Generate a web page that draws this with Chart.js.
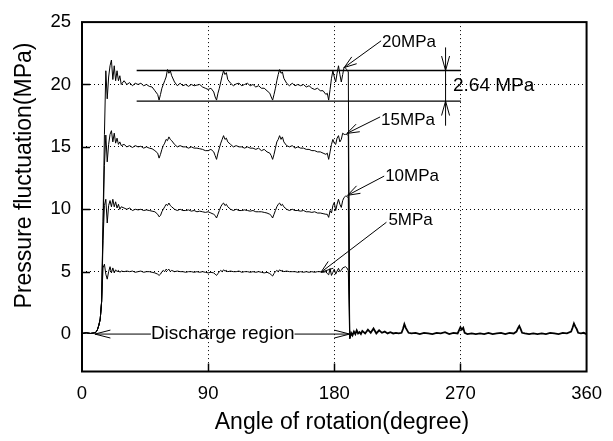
<!DOCTYPE html>
<html>
<head>
<meta charset="utf-8">
<script src="https://cdn.jsdelivr.net/npm/chart.js@4/dist/chart.umd.min.js"></script>
<style>
  html, body { margin: 0; padding: 0; background: #fff; }
  #wrap { width: 613px; height: 441px; }
</style>
</head>
<body>
<div id="wrap"><canvas id="chart" width="613" height="441"></canvas></div>
<script>
// rotation angle (degrees) shared by the four discharge traces
const angles = [0, 3, 6, 9, 10, 11, 12, 13, 14, 15, 16, 17, 18, 19, 20, 21, 22, 23, 24, 25, 26, 27, 28,
  30, 32, 34, 36, 38, 40, 42, 44, 46, 48, 50, 52, 54,
  55, 56, 57, 58, 59, 60, 61, 62, 63, 64,
  66, 68, 70, 72, 74, 76, 78, 80, 82, 84, 86, 88, 90, 92, 94,
  95, 96, 97, 98, 99, 100, 101, 102, 103, 104,
  106, 108, 110, 112, 114, 116, 118, 120, 122, 124, 126, 128, 130, 132, 134,
  135, 136, 137, 138, 139, 140, 141, 142, 143, 144,
  146, 148, 150, 152, 154, 156, 158, 160, 162, 164, 166, 168, 170, 172, 174,
  175, 176, 177, 178, 179, 180, 181, 182, 183, 184, 185, 186, 187, 188, 189, 190, 191];

const p20 = [0.05, 0.1, 0.05, 0.1, 0.15, 0.35, 0.7, 1.2, 2.6, 9.0, 16.0, 21.1, 18.85, 20.6, 21.5, 21.96, 20.4, 21.5, 20.3, 21.1, 20.3, 20.7, 20.0,
  20.3, 20.0, 20.15, 19.9, 20.1, 20.0, 20.1, 19.9, 20.0, 19.85, 19.8, 19.5, 19.2,
  18.75, 19.2, 19.7, 20.0, 20.3, 20.6, 21.2, 20.9, 21.1, 20.7,
  20.2, 19.9, 20.1, 19.9, 20.0, 19.85, 20.0, 19.9, 19.95, 20.0, 19.8, 19.7, 19.6, 19.7, 19.4,
  19.0, 18.75, 19.3, 19.7, 20.2, 20.7, 21.1, 20.8, 20.95, 20.4,
  20.1, 19.9, 20.05, 20.1, 19.9, 20.0, 20.1, 19.9, 20.0, 19.8, 19.9, 19.7, 19.7, 19.5, 19.3,
  19.0, 18.75, 19.2, 19.7, 20.3, 20.8, 21.2, 20.9, 21.0, 20.5,
  20.1, 19.9, 20.1, 19.9, 20.0, 19.9, 20.0, 19.8, 19.9, 19.7, 19.6, 19.7, 19.5, 19.5, 19.2,
  19.3, 18.75, 19.6, 20.5, 21.1, 20.6, 20.2, 20.9, 21.5, 20.8, 20.2, 20.8, 21.4, 21.3, 21.2, 21.0, -0.35];

const p15 = [0.05, 0.1, 0.05, 0.1, 0.15, 0.35, 0.7, 1.2, 2.6, 8.5, 13.5, 15.95, 13.8, 15.2, 16.0, 16.3, 15.4, 16.1, 15.3, 15.7, 15.2, 15.4, 15.1,
  15.2, 15.0, 15.1, 14.95, 15.1, 15.0, 15.05, 14.9, 15.0, 14.9, 14.85, 14.7, 14.5,
  14.1, 14.4, 14.8, 15.1, 15.3, 15.6, 15.5, 15.8, 15.6, 15.5,
  15.2, 15.0, 15.1, 15.0, 15.0, 14.9, 15.0, 14.9, 14.9, 14.85, 14.8, 14.7, 14.7, 14.8, 14.6,
  14.3, 14.0, 14.5, 14.9, 15.3, 15.6, 15.9, 15.6, 15.7, 15.4,
  15.2, 15.0, 15.1, 15.0, 15.0, 14.9, 15.0, 14.9, 14.9, 14.8, 14.9, 14.7, 14.8, 14.6, 14.5,
  14.3, 14.0, 14.4, 14.9, 15.4, 15.6, 15.9, 15.6, 15.8, 15.4,
  15.1, 15.0, 15.1, 14.9, 15.0, 14.9, 14.9, 14.8, 14.8, 14.7, 14.7, 14.6, 14.6, 14.5, 14.4,
  14.5, 14.0, 14.6, 15.2, 15.6, 15.3, 15.2, 15.7, 15.9, 15.4, 15.6, 16.1, 16.0, 16.0, 16.0, 15.9, -0.35];

const p10 = [0.05, 0.1, 0.05, 0.1, 0.15, 0.35, 0.7, 1.2, 2.6, 7.5, 10.3, 10.8, 8.9, 10.3, 10.7, 10.2, 10.8, 10.2, 10.6, 10.1, 10.4, 10.0, 10.2,
  10.1, 10.0, 10.1, 9.9, 10.0, 9.95, 10.0, 9.9, 9.95, 9.9, 9.85, 9.8, 9.6,
  9.4, 9.5, 9.8, 10.0, 10.2, 10.4, 10.3, 10.5, 10.3, 10.2,
  10.0, 9.9, 10.0, 9.9, 9.9, 9.95, 9.85, 9.9, 9.8, 9.85, 9.8, 9.75, 9.8, 9.7, 9.6,
  9.5, 9.3, 9.6, 9.9, 10.2, 10.4, 10.5, 10.3, 10.4, 10.2,
  10.0, 9.9, 10.0, 9.9, 9.9, 9.95, 9.9, 9.85, 9.9, 9.8, 9.8, 9.8, 9.75, 9.7, 9.6,
  9.5, 9.3, 9.6, 9.9, 10.2, 10.4, 10.5, 10.3, 10.4, 10.2,
  10.0, 9.9, 10.0, 9.9, 9.9, 9.85, 9.9, 9.8, 9.8, 9.75, 9.8, 9.7, 9.7, 9.65, 9.6,
  9.6, 9.35, 9.9, 9.7, 10.3, 10.55, 9.9, 10.4, 10.8, 10.4, 10.15, 10.7, 10.95, 11.05, 11.05, 10.9, -0.35];

const p5 = [0.05, 0.1, 0.05, 0.1, 0.15, 0.35, 0.7, 1.2, 2.6, 5.3, 5.6, 4.8, 4.4, 5.0, 5.4, 4.9, 5.3, 4.9, 5.15, 5.0, 5.1, 4.95, 5.05,
  5.0, 5.05, 5.0, 5.05, 4.95, 5.0, 5.05, 4.95, 5.0, 5.0, 4.95, 4.9, 4.8,
  4.7, 4.8, 5.0, 5.1, 5.0, 5.2, 5.1, 5.2, 5.0, 5.1,
  5.0, 5.05, 5.0, 5.0, 4.95, 5.0, 5.0, 4.95, 5.0, 4.95, 5.0, 4.95, 4.9, 4.95, 4.9,
  4.8, 4.7, 4.85, 5.0, 5.1, 5.0, 5.15, 5.05, 5.1, 5.0,
  5.05, 5.0, 5.0, 5.05, 4.95, 5.0, 5.0, 4.95, 5.0, 4.95, 5.0, 4.95, 4.9, 4.95, 4.85,
  4.75, 4.65, 4.85, 5.0, 5.1, 5.0, 5.15, 5.05, 5.1, 5.0,
  5.05, 5.0, 5.0, 5.0, 4.95, 5.0, 4.95, 5.0, 4.95, 5.0, 4.95, 5.0, 5.0, 4.95, 5.0,
  4.85, 4.75, 5.25, 4.7, 4.95, 5.2, 4.8, 5.05, 5.27, 5.0, 5.1, 5.3, 5.35, 5.4, 5.3, 5.1, -0.35];

// suction side (all four traces overlap near zero)
const suctionAngles = [191, 192, 193, 194, 195, 196, 197, 198, 199, 200,
  202, 204, 206, 208, 210, 212, 214, 216, 218, 220, 222, 224, 226, 228,
  229, 230, 231, 232, 233, 235,
  238, 241, 244, 247, 250, 253, 256, 259, 262, 265, 268,
  269, 270, 271, 272, 273, 275,
  278, 281, 284, 287, 290, 293, 296, 299, 302, 305, 308,
  310, 311, 312, 313, 314, 316,
  319, 322, 325, 328, 331, 334, 337, 340, 343, 346,
  349, 350, 351, 352, 353, 354, 356, 358, 360];
const suctionValues = [-0.35, 0.1, -0.1, 0.2, 0.0, 0.3, 0.05, 0.15, 0.0, 0.25,
  0.05, 0.35, 0.1, 0.45, 0.05, 0.3, 0.1, 0.2, 0.05, 0.15, 0.05, 0.1, 0.05, 0.1,
  0.4, 0.8, 0.5, 0.3, 0.1, 0.05,
  0.1, 0.0, 0.1, 0.05, 0.0, 0.1, 0.05, 0.15, 0.0, 0.1, 0.05,
  0.3, 0.55, 0.35, 0.5, 0.1, 0.0,
  0.05, 0.0, 0.05, 0.0, 0.1, 0.0, 0.05, 0.1, 0.0, 0.1, 0.05,
  0.2, 0.45, 0.65, 0.4, 0.1, 0.05,
  0.0, 0.05, 0.0, 0.05, 0.0, 0.1, 0.05, 0.0, 0.1, 0.05,
  0.2, 0.5, 0.85, 0.6, 0.4, 0.1, 0.05, 0.1, 0.0];

const xTicks = [0, 90, 180, 270, 360];
const yTicks = [0, 5, 10, 15, 20, 25];

// annotations, in data units (angle, MPa)
const seriesLabels = [
  { text: '20MPa', at: [214.1, 23.36], from: [213.4, 23.5], tip: [187.1, 21.36] },
  { text: '15MPa', at: [213.4, 17.1], from: [212.7, 17.4], tip: [189.0, 16.08] },
  { text: '10MPa', at: [216.3, 12.68], from: [215.6, 12.66], tip: [189.5, 11.12] },
  { text: '5MPa', at: [218.6, 9.15], from: [217.2, 8.96], tip: [170.5, 4.95] },
];
const band = { top: 21.12, bottom: 18.67, from: 39, to: 270.3, dimAt: 259.4, dimTop: 22.97, dimBottom: 16.7 };
const bandLabel = { text: '2.64 MPa', at: [264.7, 19.88] };
const discharge = { text: 'Discharge region', from: 9.2, to: 191, center: 100.4 };

const FONT = '"Liberation Sans", Arial, Helvetica, sans-serif';

const toPoints = (xs, ys) => xs.map((a, i) => ({ x: a, y: ys[i] }));

function arrowHead(ctx, fx, fy, tx, ty, len, spread) {
  const ang = Math.atan2(ty - fy, tx - fx);
  ctx.beginPath();
  ctx.moveTo(tx - len * Math.cos(ang - spread), ty - len * Math.sin(ang - spread));
  ctx.lineTo(tx, ty);
  ctx.lineTo(tx - len * Math.cos(ang + spread), ty - len * Math.sin(ang + spread));
  ctx.stroke();
}

function segment(ctx, x1, y1, x2, y2) {
  ctx.beginPath();
  ctx.moveTo(x1, y1);
  ctx.lineTo(x2, y2);
  ctx.stroke();
}

const annotations = {
  id: 'annotations',
  afterDatasetsDraw(chart) {
    const { ctx, chartArea: a, scales: { x, y } } = chart;
    const px = (v) => x.getPixelForValue(v);
    const py = (v) => y.getPixelForValue(v);
    ctx.save();
    ctx.strokeStyle = '#000';
    ctx.fillStyle = '#000';

    // frame and inward ticks
    ctx.lineWidth = 2;
    ctx.strokeRect(a.left, a.top, a.right - a.left, a.bottom - a.top);
    ctx.lineWidth = 1.5;
    xTicks.slice(1, -1).forEach((t) => segment(ctx, Math.round(px(t)) + 0.5, a.bottom, Math.round(px(t)) + 0.5, a.bottom - 8));
    yTicks.slice(1, -1).forEach((t) => segment(ctx, a.left, Math.round(py(t)) + 0.5, a.left + 8, Math.round(py(t)) + 0.5));

    // 2.64 MPa band
    ctx.lineWidth = 1.3;
    segment(ctx, px(band.from), py(band.top), px(band.to), py(band.top));
    segment(ctx, px(band.from), py(band.bottom), px(band.to), py(band.bottom));
    ctx.lineWidth = 1;
    segment(ctx, px(band.dimAt), py(band.dimTop), px(band.dimAt), py(band.dimBottom));
    arrowHead(ctx, px(band.dimAt), py(band.dimTop), px(band.dimAt), py(band.top), 15, 0.27);
    arrowHead(ctx, px(band.dimAt), py(band.dimBottom), px(band.dimAt), py(band.bottom), 15, 0.27);
    ctx.font = '19px ' + FONT;
    ctx.textAlign = 'left';
    ctx.textBaseline = 'middle';
    ctx.fillText(bandLabel.text, px(bandLabel.at[0]), py(bandLabel.at[1]));

    // series labels with arrows
    ctx.font = '17px ' + FONT;
    seriesLabels.forEach((l) => {
      ctx.fillText(l.text, px(l.at[0]), py(l.at[1]));
      const fx = px(l.from[0]), fy = py(l.from[1]), tx = px(l.tip[0]), ty = py(l.tip[1]);
      ctx.lineWidth = 1;
      segment(ctx, fx, fy, tx, ty);
      arrowHead(ctx, fx, fy, tx, ty, 13, 0.33);
    });

    // discharge region arrow
    ctx.font = '19px ' + FONT;
    ctx.textAlign = 'center';
    const cx = px(discharge.center), cy = py(0);
    const half = ctx.measureText(discharge.text).width / 2;
    ctx.fillText(discharge.text, cx, cy);
    ctx.lineWidth = 1;
    segment(ctx, px(discharge.from), cy, cx - half, cy);
    segment(ctx, cx + half, cy, px(discharge.to), cy);
    arrowHead(ctx, cx - half, cy, px(discharge.from), cy, 16, 0.25);
    arrowHead(ctx, cx + half, cy, px(discharge.to), cy, 16, 0.25);

    // axis titles
    ctx.font = '23px ' + FONT;
    ctx.textAlign = 'center';
    ctx.fillText('Angle of rotation(degree)', 342, 423);
    ctx.translate(25, 175.5);
    ctx.rotate(-Math.PI / 2);
    ctx.fillText('Pressure fluctuation(MPa)', 0, 0);
    ctx.restore();
  },
};

const trace = (label, data, width) => ({
  label,
  data,
  borderColor: '#000',
  borderWidth: width,
  pointRadius: 0,
  tension: 0,
  fill: false,
});

new Chart(document.getElementById('chart'), {
  type: 'line',
  data: {
    datasets: [
      trace('20MPa', toPoints(angles, p20), 1),
      trace('15MPa', toPoints(angles, p15), 1),
      trace('10MPa', toPoints(angles, p10), 1),
      trace('5MPa', toPoints(angles, p5), 1),
      trace('suction', toPoints(suctionAngles, suctionValues), 1.8),
    ],
  },
  options: {
    responsive: false,
    animation: false,
    devicePixelRatio: 1,
    layout: { padding: { top: 17.5, right: 25, left: 0, bottom: 0 } },
    plugins: { legend: { display: false }, tooltip: { enabled: false } },
    scales: {
      x: {
        type: 'linear',
        min: 0,
        max: 360,
        afterFit: (s) => { s.height = 69.5; },
        afterBuildTicks: (s) => { s.ticks = xTicks.map((v) => ({ value: v })); },
        ticks: { color: '#000', padding: 11, font: { family: FONT, size: 18.5 } },
        grid: {
          drawTicks: false,
          lineWidth: 1,
          color: (c) => (c.tick && c.tick.value > 0 && c.tick.value < 360 ? '#000' : 'rgba(0,0,0,0)'),
        },
        border: { display: false, dash: [1, 3] },
      },
      y: {
        type: 'linear',
        min: -3,
        max: 25,
        afterFit: (s) => { s.width = 82; },
        afterBuildTicks: (s) => { s.ticks = yTicks.map((v) => ({ value: v })); },
        ticks: { color: '#000', padding: 11, font: { family: FONT, size: 18.5 } },
        grid: {
          drawTicks: false,
          lineWidth: 1,
          color: (c) => (c.tick && c.tick.value > 0 && c.tick.value < 25 ? '#000' : 'rgba(0,0,0,0)'),
        },
        border: { display: false, dash: [1, 3] },
      },
    },
  },
  plugins: [annotations],
});
</script>
</body>
</html>
